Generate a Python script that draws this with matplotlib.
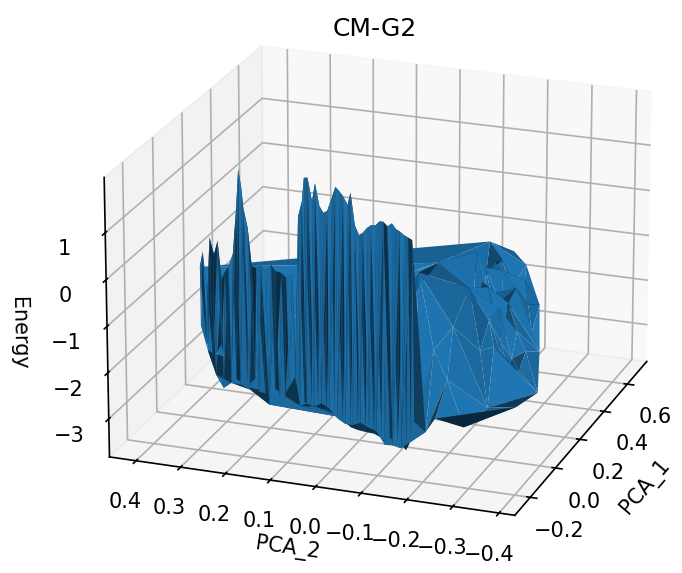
import matplotlib
matplotlib.use("Agg")

import matplotlib.pyplot as plt

# left wing of the band
left_pca_1 = [-0.088, -0.092, -0.089, -0.084, -0.087, -0.094, -0.090, -0.086, -0.088, -0.094, -0.087, -0.084, -0.089, -0.092, -0.088,
              -0.084, -0.090, -0.094, -0.087, -0.086, -0.089, -0.088, -0.092, -0.087, -0.089, -0.084, -0.088, -0.094, -0.090, -0.086,
              -0.087, -0.092, -0.089, -0.084, -0.088, -0.094, -0.087, -0.086, -0.090, -0.092, -0.088, -0.084, -0.089, -0.094, -0.087]
left_pca_2 = [0.328, 0.326, 0.321, 0.317, 0.312, 0.310, 0.305, 0.301, 0.296, 0.292, 0.288, 0.283, 0.279, 0.276, 0.272,
              0.267, 0.263, 0.258, 0.254, 0.249, 0.245, 0.240, 0.238, 0.234, 0.229, 0.225, 0.220, 0.216, 0.211, 0.207,
              0.202, 0.196, 0.191, 0.184, 0.180, 0.173, 0.169, 0.162, 0.158, 0.151, 0.146, 0.140, 0.135, 0.128, 0.122]
left_energy = [-0.22, -1.48, 0.12, -1.79, -0.81, -2.00, 0.45, -2.20, 0.09, -2.50, 0.39, -1.85, -0.43, -2.77, -0.26,
               -2.48, -0.12, -2.63, 0.15, -2.56, 1.15, 1.98, -2.64, 1.60, 1.17, -2.68, 0.75, -2.72, -0.05, -2.50,
               -0.09, -2.80, -0.02, -2.90, -0.13, -2.99, 0.02, -2.65, -0.09, -2.90, -0.12, -2.79, -0.20, -2.55, -0.13]

# dense middle of the band
mid_pca_1 = [-0.092, -0.086, -0.088, -0.094, -0.089, -0.084, -0.087, -0.092, -0.090, -0.084, -0.088, -0.094, -0.089, -0.086, -0.087,
             -0.092, -0.088, -0.084, -0.090, -0.094, -0.087, -0.086, -0.089, -0.092, -0.088, -0.084, -0.090, -0.094, -0.087, -0.086,
             -0.089, -0.092, -0.088, -0.084, -0.087, -0.094, -0.090, -0.086, -0.088, -0.092, -0.089, -0.084, -0.087, -0.094, -0.088,
             -0.086, -0.090, -0.092, -0.089, -0.084, -0.087, -0.094, -0.088, -0.086, -0.090, -0.092, -0.087, -0.084, -0.089]
mid_pca_2 = [0.115, 0.113, 0.108, 0.104, 0.099, 0.097, 0.095, 0.090, 0.086, 0.081, 0.077, 0.072, 0.070, 0.066, 0.061,
             0.057, 0.052, 0.048, 0.043, 0.039, 0.034, 0.030, 0.025, 0.021, 0.016, 0.012, 0.008, 0.003, -0.001, -0.006,
             -0.008, -0.013, -0.017, -0.022, -0.026, -0.031, -0.035, -0.040, -0.044, -0.049, -0.053, -0.058, -0.062, -0.066, -0.071,
             -0.075, -0.080, -0.084, -0.089, -0.093, -0.098, -0.102, -0.107, -0.111, -0.116, -0.120, -0.125, -0.129, -0.134]
mid_energy = [-2.31, -2.92, 1.13, -2.93, 1.47, -2.87, 1.97, -2.86, 1.99, -2.89, 1.50, -2.90, 1.89, -2.94, 1.41,
              -2.81, 1.28, -2.98, 1.34, -2.89, 1.61, -3.03, 1.87, -3.09, 1.77, -3.13, 1.69, -3.18, 1.51, -3.26,
              1.79, -3.19, 1.10, -3.31, 0.90, -3.11, 0.97, -3.32, 1.08, -3.20, 1.15, -3.34, 1.15, -3.24, 1.25,
              -3.40, 1.26, -3.52, 1.17, -3.39, 1.24, -3.50, 1.13, -3.43, 1.10, -3.55, 1.02, -3.60, 0.99]

# broad lobe at the far end
lobe_pca_1 = [-0.08, -0.09, -0.085, -0.095, -0.05, 0.007, 0.116, 0.334, 0.518, 0.607, 0.661, 0.607, 0.389, 0.356, 0.06, 0.007,
              0.389, 0.443, 0.334, 0.28, 0.225, 0.28, 0.138, 0.334, 0.443, 0.28, 0.17, 0.007, 0.007, -0.095, 0.007, 0.552, 0.443, 0.28,
              0.36, 0.37, 0.40, 0.42, 0.46, 0.48, 0.50, 0.53, 0.30, 0.31, 0.26, 0.24, 0.20, 0.19, 0.38, 0.40, 0.47, 0.15]
lobe_pca_2 = [-0.138, -0.143, -0.147, -0.175, -0.246, -0.345, -0.362, -0.306, -0.255, -0.20, -0.157, -0.117, -0.148, -0.071, -0.19, -0.13,
              -0.181, -0.19, -0.235, -0.27, -0.25, -0.217, -0.228, -0.157, -0.154, -0.163, -0.306, -0.282, -0.193, -0.196, -0.163, -0.19, -0.25, -0.29,
              -0.17, -0.175, -0.165, -0.20, -0.17, -0.21, -0.175, -0.215, -0.20, -0.225, -0.235, -0.27, -0.23, -0.275, -0.24, -0.27, -0.235, -0.255]
lobe_energy = [-3.39, 0.95, -2.96, -3.11, -3.05, -2.65, -2.65, -2.48, -2.05, -1.49, -1.39, -1.07, -0.65, -0.89, -1.28, -0.03,
               -1.53, -1.15, -1.50, -1.92, -2.03, -1.79, -1.98, -1.61, -1.31, -1.11, -2.41, -2.75, -2.27, -2.79, -1.66, -1.73, -1.83, -2.33,
               -1.2, -1.9, -1.0, -1.95, -1.05, -2.0, -1.1, -1.95, -1.1, -2.2, -1.4, -2.4, -1.5, -2.5, -1.3, -2.3, -1.4, -1.9]

pca_1 = left_pca_1 + mid_pca_1 + lobe_pca_1
pca_2 = left_pca_2 + mid_pca_2 + lobe_pca_2
energy = left_energy + mid_energy + lobe_energy

W, H = 870, 647
cx, cy = 375, 281

fig = plt.figure(figsize=(682 / 150, 573 / 150), dpi=150)
ax = fig.add_axes([(cx - W / 2) / 682, (573 - cy - H / 2) / 573, W / 682, H / 573], projection="3d")
ax.set_box_aspect((4, 4, 2.78))
ax.set_proj_type("persp", focal_length=1.6)
ax.plot_trisurf(pca_1, pca_2, energy)
ax.view_init(elev=21, azim=200)
ax.set_xlim(-0.32, 0.77)
ax.set_ylim(-0.434, 0.46)
ax.set_zlim(-3.83, 2.17)
ax.set_xticks([-0.2, 0.0, 0.2, 0.4, 0.6])
ax.set_yticks([-0.4, -0.3, -0.2, -0.1, 0.0, 0.1, 0.2, 0.3, 0.4])
ax.set_zticks([-3, -2, -1, 0, 1])
ax.set_xlabel("PCA_1")
ax.set_ylabel("PCA_2", labelpad=2)
ax.set_zlabel("Energy")
fig.text(0.55, 0.95, "CM-G2", ha="center", va="center", fontsize=12)
fig.savefig("out.png", dpi=150)
